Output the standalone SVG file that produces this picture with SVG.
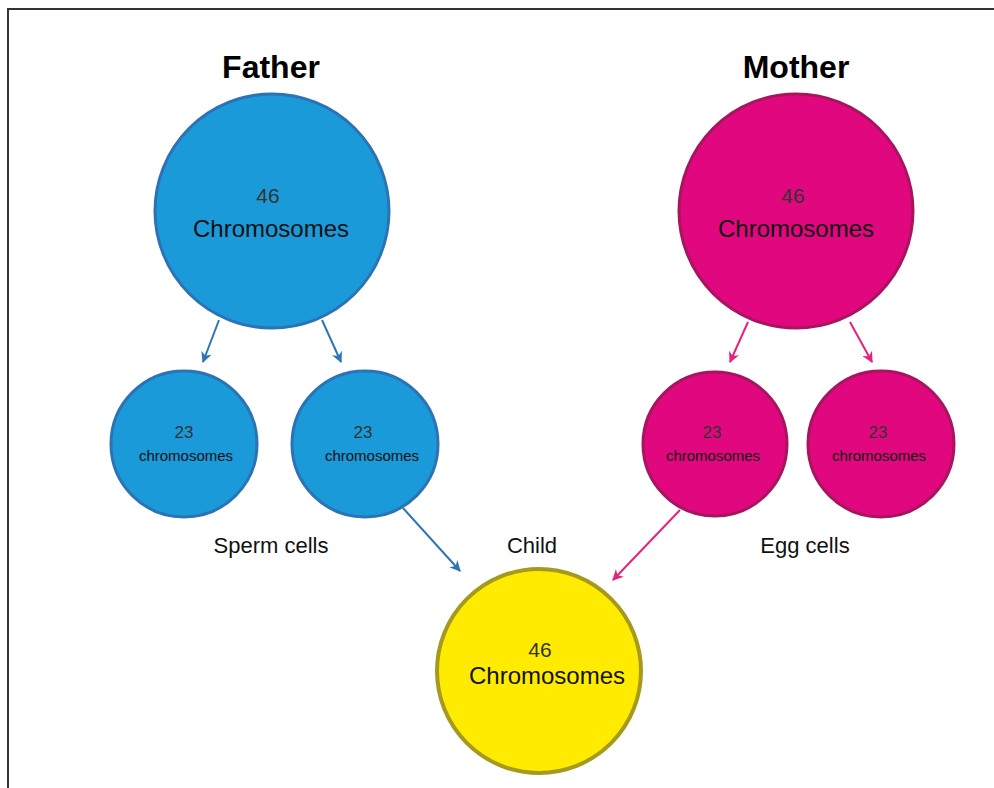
<svg xmlns="http://www.w3.org/2000/svg" width="994" height="788" viewBox="0 0 994 788">
<defs>
<style>
.t{font-family:"Liberation Sans",Arial,sans-serif;text-anchor:middle;fill:#111}
.h{font-weight:bold;font-size:32px;fill:#000}
.blue{fill:#1a9ad9;stroke:#2b73b5;stroke-width:3}
.pink{fill:#e0077f;stroke:#a8155f;stroke-width:3}
.yel{fill:#ffeb00;stroke:#a59a1e;stroke-width:4}
.n{fill:#333}
.ab{stroke:#2e75b6;stroke-width:2;fill:none}
.ap{stroke:#e2237f;stroke-width:2;fill:none}
</style>
<marker id="mb" viewBox="0 0 10 10" refX="9" refY="5" markerWidth="11" markerHeight="11" orient="auto" markerUnits="userSpaceOnUse"><path d="M0,0L10,5L0,10L3,5Z" fill="#2e75b6"/></marker>
<marker id="mp" viewBox="0 0 10 10" refX="9" refY="5" markerWidth="11" markerHeight="11" orient="auto" markerUnits="userSpaceOnUse"><path d="M0,0L10,5L0,10L3,5Z" fill="#e2237f"/></marker>
</defs>
<rect width="994" height="788" fill="#fff"/>
<path d="M8,788V9H994" fill="none" stroke="#333" stroke-width="2"/>
<text class="t h" x="271" y="78">Father</text>
<text class="t h" x="796" y="78">Mother</text>
<g id="connectors">
<line class="ab" x1="219" y1="320" x2="203" y2="362" marker-end="url(#mb)"/>
<line class="ab" x1="322" y1="320" x2="341" y2="362" marker-end="url(#mb)"/>
<line class="ap" x1="748" y1="322" x2="730" y2="362" marker-end="url(#mp)"/>
<line class="ap" x1="850" y1="322" x2="872" y2="362" marker-end="url(#mp)"/>
<line class="ab" x1="403" y1="508" x2="460" y2="571" marker-end="url(#mb)"/>
<line class="ap" x1="680" y1="510" x2="613" y2="580" marker-end="url(#mp)"/>
</g>
<g id="father">
<circle class="blue" cx="272" cy="211" r="117"/>
<text class="t n" x="268" y="203" font-size="21">46</text>
<text class="t" x="271" y="237" font-size="24">Chromosomes</text>
</g>
<g id="mother">
<circle class="pink" cx="796" cy="211" r="117"/>
<text class="t n" x="793" y="203" font-size="21">46</text>
<text class="t" x="796" y="237" font-size="24">Chromosomes</text>
</g>
<g id="sperm1">
<circle class="blue" cx="184" cy="444" r="73"/>
<text class="t n" x="184" y="438" font-size="17">23</text>
<text class="t" x="186" y="461" font-size="15">chromosomes</text>
</g>
<g id="sperm2">
<circle class="blue" cx="365" cy="444" r="73"/>
<text class="t n" x="363" y="438" font-size="17">23</text>
<text class="t" x="372" y="461" font-size="15">chromosomes</text>
</g>
<g id="egg1">
<circle class="pink" cx="715" cy="444" r="72"/>
<text class="t n" x="712" y="438" font-size="17">23</text>
<text class="t" x="713" y="461" font-size="15">chromosomes</text>
</g>
<g id="egg2">
<circle class="pink" cx="881" cy="444" r="73"/>
<text class="t n" x="878" y="438" font-size="17">23</text>
<text class="t" x="879" y="461" font-size="15">chromosomes</text>
</g>
<g id="child">
<circle class="yel" cx="539" cy="671" r="102"/>
<text class="t n" x="540" y="657" font-size="21">46</text>
<text class="t" x="547" y="684" font-size="24">Chromosomes</text>
</g>
<text class="t" x="271" y="553" font-size="22">Sperm cells</text>
<text class="t" x="532" y="553" font-size="22">Child</text>
<text class="t" x="805" y="553" font-size="22">Egg cells</text>
</svg>
